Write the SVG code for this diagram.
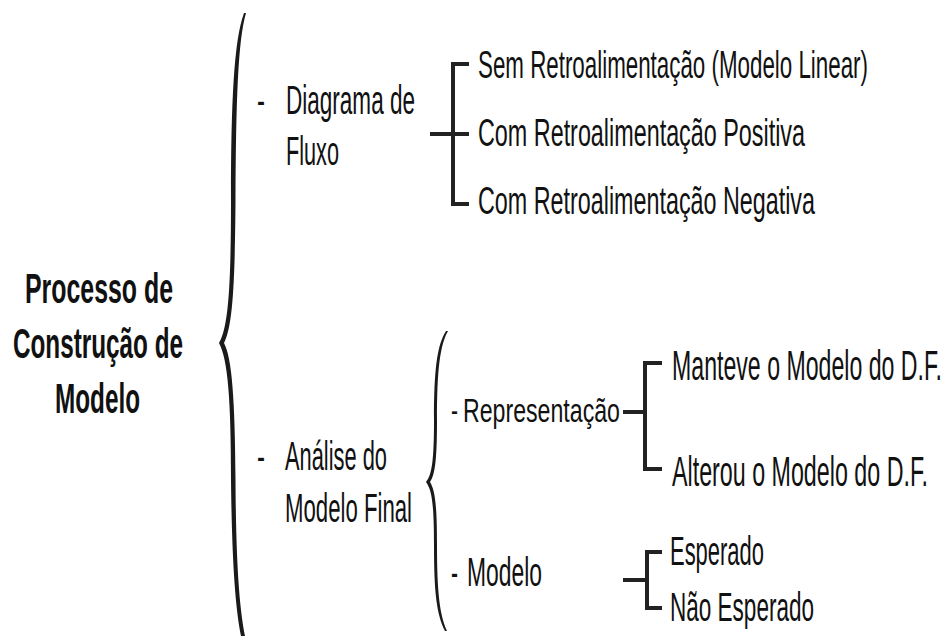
<svg xmlns="http://www.w3.org/2000/svg" width="947" height="636" viewBox="0 0 947 636">
<style>
.t{font-family:"Liberation Sans",Arial,sans-serif;fill:#111;}
.b{font-weight:bold;font-size:24.5px;}
.n{font-size:22px;}
.s{font-size:23px;}
.ln{fill:none;stroke:#222;stroke-width:4;stroke-linecap:butt;stroke-linejoin:miter;}
.br{fill:#1a1a1a;}
</style>
<rect width="947" height="636" fill="#fff"/>
<g id="root">
<text class="t b" transform="translate(25,303) scale(1,1.714)" textLength="148" lengthAdjust="spacingAndGlyphs">Processo de</text>
<text class="t b" transform="translate(13,358) scale(1,1.714)" textLength="170" lengthAdjust="spacingAndGlyphs">Construção de</text>
<text class="t b" transform="translate(55,413) scale(1,1.714)" textLength="85" lengthAdjust="spacingAndGlyphs">Modelo</text>
</g>
<g id="braces">
<path class="br" d="M246,13 C238,40 236,100 235.5,200 C235,290 232,328 224,343 C232,358 235,400 235.5,480 C236,570 240,610 245,636 L241,636 C236,610 232,570 231,480 C231,400 228,360 219,343 C228,328 231,290 231,200 C231,100 234,40 244,13 Z"/>
<path class="br" d="M448,331 C440,345 437,370 437,420 C437,460 435,475 430,482 C435,490 437,505 437,545 C437,595 440,615 447,631 L445,631 C437,615 434,595 434,545 C434,505 432,490 426,482 C432,475 434,460 434,420 C434,370 437,345 446,331 Z"/>
</g>
<g id="diagrama">
<text class="t n" transform="translate(257,114) scale(1,1.818)" textLength="8" lengthAdjust="spacingAndGlyphs">-</text>
<text class="t n" transform="translate(286,114) scale(1,1.818)" textLength="129" lengthAdjust="spacingAndGlyphs">Diagrama de</text>
<text class="t n" transform="translate(286,165) scale(1,1.818)" textLength="53" lengthAdjust="spacingAndGlyphs">Fluxo</text>
</g>
<g id="sem">
<text class="t s" transform="translate(478,78) scale(1,1.652)" textLength="390" lengthAdjust="spacingAndGlyphs">Sem Retroalimentação (Modelo Linear)</text>
</g>
<g id="positiva">
<text class="t s" transform="translate(478,146) scale(1,1.652)" textLength="327" lengthAdjust="spacingAndGlyphs">Com Retroalimentação Positiva</text>
</g>
<g id="negativa">
<text class="t s" transform="translate(478,214) scale(1,1.652)" textLength="337" lengthAdjust="spacingAndGlyphs">Com Retroalimentação Negativa</text>
</g>
<g id="analise">
<text class="t n" transform="translate(257,470) scale(1,1.818)" textLength="8" lengthAdjust="spacingAndGlyphs">-</text>
<text class="t n" transform="translate(285,470) scale(1,1.818)" textLength="102" lengthAdjust="spacingAndGlyphs">Análise do</text>
<text class="t n" transform="translate(285,522) scale(1,1.818)" textLength="127" lengthAdjust="spacingAndGlyphs">Modelo Final</text>
</g>
<g id="representacao">
<text class="t s" transform="translate(451,422) scale(1,1.478)" textLength="7" lengthAdjust="spacingAndGlyphs">-</text>
<text class="t s" transform="translate(463,422) scale(1,1.478)" textLength="157" lengthAdjust="spacingAndGlyphs">Representação</text>
</g>
<g id="manteve">
<text class="t s" transform="translate(672,380) scale(1,1.87)" textLength="270" lengthAdjust="spacingAndGlyphs">Manteve o Modelo do D.F.</text>
</g>
<g id="alterou">
<text class="t s" transform="translate(672,486) scale(1,1.87)" textLength="256" lengthAdjust="spacingAndGlyphs">Alterou o Modelo do D.F.</text>
</g>
<g id="modelo">
<text class="t n" transform="translate(451,586) scale(1,1.818)" textLength="7" lengthAdjust="spacingAndGlyphs">-</text>
<text class="t n" transform="translate(467,586) scale(1,1.818)" textLength="75" lengthAdjust="spacingAndGlyphs">Modelo</text>
</g>
<g id="esperado">
<text class="t n" transform="translate(670,565) scale(1,1.818)" textLength="94" lengthAdjust="spacingAndGlyphs">Esperado</text>
</g>
<g id="naoesperado">
<text class="t n" transform="translate(670,621) scale(1,1.818)" textLength="144" lengthAdjust="spacingAndGlyphs">Não Esperado</text>
</g>
<g id="connectors">
<path class="ln" d="M469,64 H453 V204 H469 M430,134 H469"/>
<path class="ln" d="M662,363 H645 V469 H662 M623,412 H645"/>
<path class="ln" d="M662,552 H647 V608 H662 M623,580 H647"/>
</g>
</svg>
